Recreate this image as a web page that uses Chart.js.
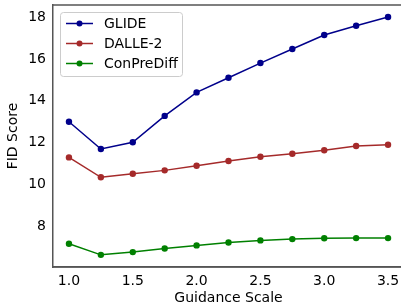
<!DOCTYPE html>
<html>
<head>
<meta charset="utf-8">
<script src="https://cdn.jsdelivr.net/npm/chart.js@4/dist/chart.umd.min.js"></script>
<style>
html,body{margin:0;padding:0;background:#fff;}
#wrap{width:401px;height:305px;position:relative;}
</style>
</head>
<body>
<div id="wrap"><canvas id="c" width="401" height="305"></canvas></div>
<script>
const guidance = [1.0, 1.25, 1.5, 1.75, 2.0, 2.25, 2.5, 2.75, 3.0, 3.25, 3.5];
const glide = [13.0, 11.7, 12.02, 13.28, 14.4, 15.1, 15.8, 16.47, 17.14, 17.58, 18.0];
const dalle2 = [11.3, 10.35, 10.52, 10.68, 10.9, 11.13, 11.33, 11.47, 11.64, 11.84, 11.9];
const conprediff = [7.18, 6.65, 6.78, 6.95, 7.1, 7.24, 7.34, 7.4, 7.44, 7.45, 7.45];
const xTicks = [1.0, 1.5, 2.0, 2.5, 3.0, 3.5];
const yTicks = [8, 10, 12, 14, 16, 18];
const seriesNames = ['GLIDE', 'DALLE-2', 'ConPreDiff'];
const seriesColors = ['#00008B', '#A52A2A', '#008000'];
const seriesData = [glide, dalle2, conprediff];

const FONT = 'DejaVu Sans';

const legendPlugin = {
  id: 'inLegend',
  afterDraw(chart) {
    const ctx = chart.ctx;
    const x0 = 60, y0 = 12, w = 122, h = 64;
    ctx.save();
    ctx.fillStyle = 'rgba(255,255,255,0.8)';
    ctx.strokeStyle = '#cccccc';
    ctx.lineWidth = 1;
    ctx.beginPath();
    if (ctx.roundRect) ctx.roundRect(x0 + 0.5, y0 + 0.5, w, h, 3); else ctx.rect(x0 + 0.5, y0 + 0.5, w, h);
    ctx.fill();
    ctx.stroke();
    ctx.font = '14px "' + FONT + '"';
    ctx.textBaseline = 'middle';
    seriesNames.forEach((n, i) => {
      const y = 23.5 + i * 20;
      ctx.strokeStyle = seriesColors[i];
      ctx.lineWidth = 1.5;
      ctx.beginPath();
      ctx.moveTo(66, y);
      ctx.lineTo(93, y);
      ctx.stroke();
      ctx.fillStyle = seriesColors[i];
      ctx.beginPath();
      ctx.arc(79.5, y, 3, 0, Math.PI * 2);
      ctx.fill();
      ctx.fillStyle = '#000';
      ctx.fillText(n, 104, y + 1);
    });
    ctx.restore();
  }
};

const stretchPlugin = {
  id: 'stretch',
  afterLayout(chart) {
    const x = chart.scales.x;
    const R = 404;
    x.right = R;
    x.width = R - x.left;
    chart.chartArea.right = R;
    chart.chartArea.width = R - chart.chartArea.left;
    x.configure();
    x._labelItems = null;
  }
};

new Chart(document.getElementById('c'), {
  type: 'line',
  data: {
    datasets: seriesNames.map((n, i) => ({
      label: n,
      data: guidance.map((g, j) => ({x: g, y: seriesData[i][j]})),
      borderColor: seriesColors[i],
      backgroundColor: seriesColors[i],
      borderWidth: 1.5,
      pointRadius: 3.2,
      pointBorderWidth: 0,
      pointHoverRadius: 3.2,
      tension: 0,
      fill: false
    }))
  },
  options: {
    responsive: false,
    animation: false,
    devicePixelRatio: 1,
    layout: {padding: {top: 5, right: 0, left: 0, bottom: 0}},
    plugins: {legend: {display: false}, tooltip: {enabled: false}},
    scales: {
      x: {
        type: 'linear',
        min: 0.875,
        max: 3.625,
        afterBuildTicks(s) { s.ticks = xTicks.map(v => ({value: v})); },
        afterFit(s) { s.height = 38; s.paddingLeft = 0; s.paddingRight = 0; },
        grid: {display: false, drawTicks: true, tickLength: 4, tickColor: '#444', drawOnChartArea: false},
        border: {display: true, color: '#555', width: 1.5},
        ticks: {color: '#000', font: {family: FONT, size: 14}, padding: 2, maxRotation: 0,
          callback: v => v.toFixed(1)},
        title: {display: true, text: 'Guidance Scale', color: '#000', font: {family: FONT, size: 14}, padding: {top: 0, bottom: -2}}
      },
      y: {
        min: 6.07,
        max: 18.57,
        afterBuildTicks(s) { s.ticks = yTicks.map(v => ({value: v})); },
        afterFit(s) { s.width = 53; s.paddingTop = 0; s.paddingBottom = 0; },
        grid: {display: false, drawTicks: true, tickLength: 4, tickColor: '#444', drawOnChartArea: false},
        border: {display: true, color: '#555', width: 1.5},
        ticks: {color: '#000', font: {family: FONT, size: 14}, padding: 3,
          callback: v => String(v)},
        title: {display: true, text: 'FID Score', color: '#000', font: {family: FONT, size: 14}, padding: {top: 5, bottom: 4}}
      }
    }
  },
  plugins: [stretchPlugin, legendPlugin, {
    id: 'frame',
    afterDraw(chart) {
      const a = chart.chartArea, ctx = chart.ctx;
      ctx.save();
      ctx.strokeStyle = '#555';
      ctx.lineWidth = 1.5;
      ctx.beginPath();
      ctx.moveTo(a.left, a.top); ctx.lineTo(chart.width, a.top);
      ctx.moveTo(a.left, a.bottom); ctx.lineTo(chart.width, a.bottom);
      ctx.stroke();
      ctx.restore();
    }
  }]
});
</script>
</body>
</html>
